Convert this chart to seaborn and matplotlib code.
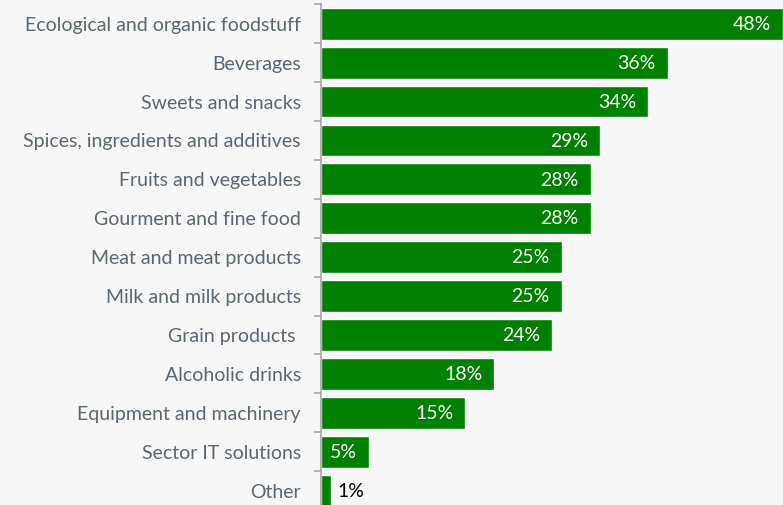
import matplotlib.pyplot as plt
import seaborn as sns
import numpy as np

categorias = [
    "Ecological and organic foodstuff",
    "Beverages",
    "Sweets and snacks",
    "Spices, ingredients and additives",
    "Fruits and vegetables",
    "Gourment and fine food",
    "Meat and meat products",
    "Milk and milk products",
    "Grain products ",
    "Alcoholic drinks",
    "Equipment and machinery",
    "Sector IT solutions",
    "Other",
]
valores = [48, 36, 34, 29, 28, 28, 25, 25, 24, 18, 15, 5, 1]
etiquetas = [f"{v}%" for v in valores]

sns.set_theme(style="white")
plt.rcParams['font.family'] = ['Lato', 'DejaVu Sans']

fondo = '#f7f7f7'
verde = '#008000'

fig = plt.figure(figsize=(7.83, 5.05), dpi=100)
fig.patch.set_facecolor(fondo)
# el eje se sale un poco por abajo, como en el original
ax = fig.add_axes([321 / 783, 1 - 510 / 505, 1 - 321 / 783, 505.7 / 505])
ax.set_facecolor(fondo)

sns.barplot(x=valores, y=categorias, color=verde, saturation=1, width=0.82,
            orient='h', ax=ax)

ax.set_xlim(0, 48)
ax.set_ylim(len(categorias) - 0.5, -0.5)

# etiquetas de valor
for i, (v, txt) in enumerate(zip(valores, etiquetas)):
    if v >= 5:
        ax.annotate(txt, (v, i), xytext=(-8.5, -0.5), textcoords='offset points',
                    ha='right', va='center', color='white', fontsize=14)
    else:
        ax.annotate(txt, (v, i), xytext=(5, -0.5), textcoords='offset points',
                    ha='left', va='center', color='black', fontsize=14)

# ejes
for s in ['top', 'right', 'bottom']:
    ax.spines[s].set_visible(False)
ax.spines['left'].set_color('#a6a6a6')
ax.spines['left'].set_linewidth(1.2)
ax.set_xticks([])
ax.set_yticks(np.arange(-0.5, len(categorias) - 0.4, 1), minor=True)
ax.tick_params(axis='y', which='minor', length=5, width=1.2, color='#a6a6a6', left=True)
ax.tick_params(axis='y', which='major', length=0, pad=14.5, labelsize=14,
               labelcolor='#5a6672')
ax.set_xlabel('')
ax.set_ylabel('')

plt.savefig('out.png', dpi=100, facecolor=fondo)
